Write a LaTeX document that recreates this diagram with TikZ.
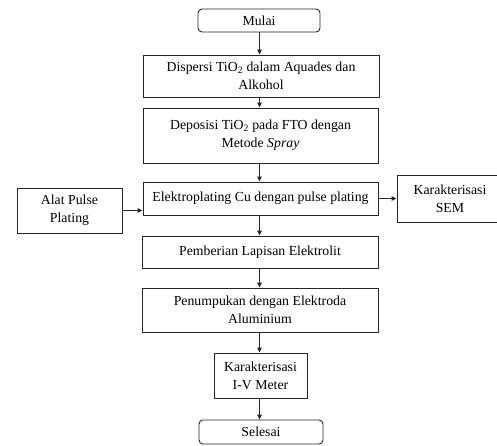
\documentclass[tikz,border=0pt]{standalone}
\usepackage{fontspec}
\setmainfont{Liberation Serif}
\usetikzlibrary{arrows.meta}
\begin{document}
\begin{tikzpicture}[x=1pt,y=-1pt,
  box/.style={draw=black!85, line width=0.9pt, rectangle, align=center, inner sep=0pt,
    font=\fontsize{13.8}{18}\selectfont},
  term/.style={box, rounded corners=4pt},
  arr/.style={draw=black!85, line width=0.9pt, -{Triangle[length=5pt,width=4.5pt]}}]
\useasboundingbox (0,0) rectangle (497,445);
\node[term, minimum width=122pt, minimum height=23pt] (mulai) at (259,20.5) {Mulai};
\node[box, minimum width=236pt, minimum height=42pt] (disp) at (261,76) {Dispersi TiO\textsubscript{2} dalam Aquades dan\\Alkohol};
\node[box, minimum width=235pt, minimum height=55pt] (depo) at (260.5,135.5) {Deposisi TiO\textsubscript{2} pada FTO dengan\\Metode \textit{Spray}};
\node[box, minimum width=235pt, minimum height=33pt] (elek) at (260.5,198.5) {Elektroplating Cu dengan pulse plating};
\node[box, minimum width=236pt, minimum height=32pt] (pemb) at (260,252) {Pemberian Lapisan Elektrolit};
\node[box, minimum width=236pt, minimum height=44pt] (penu) at (260,310) {Penumpukan dengan Elektroda\\Aluminium};
\node[box, minimum width=93pt, minimum height=45pt] (iv) at (260.5,375.5) {Karakterisasi\\I-V Meter};
\node[term, minimum width=124pt, minimum height=24pt] (sel) at (261,432) {Selesai};
\node[box, minimum width=105pt, minimum height=45pt] (alat) at (69.5,210.5) {Alat Pulse\\Plating};
\node[box, minimum width=106pt, minimum height=47pt] (sem) at (450,198.5) {Karakterisasi\\SEM};
\coordinate (cx) at (259.5,0);
\draw[arr] (mulai.south -| cx) -- (disp.north -| cx);
\draw[arr] (disp.south -| cx) -- (depo.north -| cx);
\draw[arr] (depo.south -| cx) -- (elek.north -| cx);
\draw[arr] (elek.south -| cx) -- (pemb.north -| cx);
\draw[arr] (pemb.south -| cx) -- (penu.north -| cx);
\draw[arr] (penu.south -| cx) -- (iv.north -| cx);
\draw[arr] (iv.south -| cx) -- (sel.north -| cx);
\draw[arr] (alat.east) -- (alat.east -| elek.west);
\draw[arr] (elek.east) -- (sem.west);
\end{tikzpicture}
\end{document}
